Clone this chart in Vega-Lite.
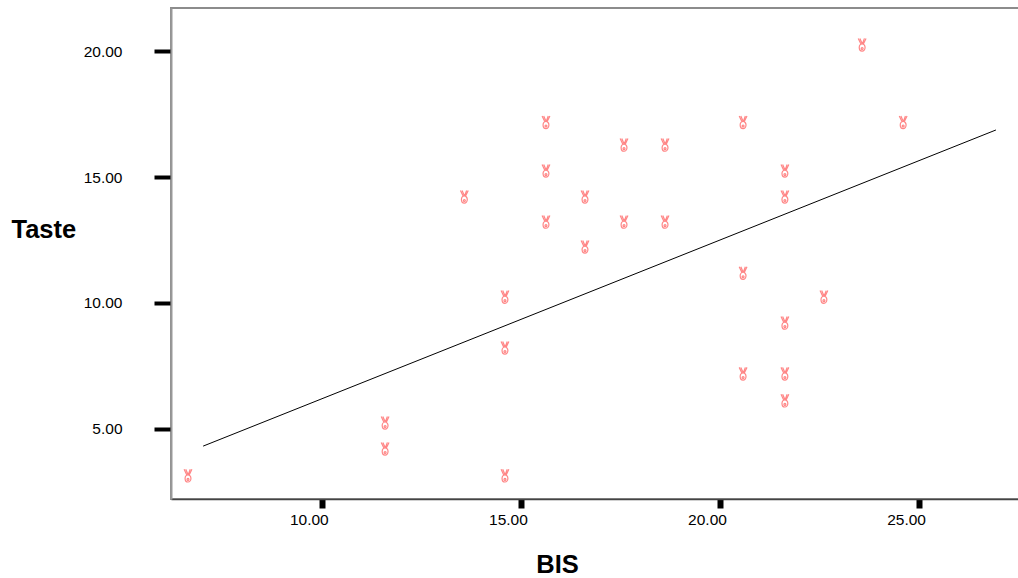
{
  "$schema": "https://vega.github.io/schema/vega-lite/v6.json",
  "width": 848,
  "height": 491,
  "autosize": {"type": "none"},
  "padding": {"left": 171, "top": 8, "right": 0, "bottom": 79},
  "background": "white",
  "view": {"stroke": "#8c8c8c", "strokeWidth": 2},
  "config": {
    "font": "Liberation Sans",
    "axis": {"grid": false, "labelColor": "black", "titleColor": "black", "labelFont": "Liberation Sans", "titleFont": "Liberation Sans"}
  },
  "datasets": {
    "points": [
      {"BIS": 6.64, "Taste": 3.13},
      {"BIS": 11.59, "Taste": 5.23},
      {"BIS": 11.59, "Taste": 4.20},
      {"BIS": 13.58, "Taste": 14.21},
      {"BIS": 14.60, "Taste": 10.23},
      {"BIS": 14.60, "Taste": 8.21},
      {"BIS": 14.60, "Taste": 3.13},
      {"BIS": 15.63, "Taste": 17.17},
      {"BIS": 15.63, "Taste": 15.24},
      {"BIS": 15.63, "Taste": 13.21},
      {"BIS": 16.61, "Taste": 14.21},
      {"BIS": 16.61, "Taste": 12.22},
      {"BIS": 17.59, "Taste": 16.27},
      {"BIS": 17.59, "Taste": 13.21},
      {"BIS": 18.62, "Taste": 16.27},
      {"BIS": 18.62, "Taste": 13.21},
      {"BIS": 20.58, "Taste": 17.17},
      {"BIS": 20.58, "Taste": 11.18},
      {"BIS": 20.58, "Taste": 7.18},
      {"BIS": 21.63, "Taste": 15.24},
      {"BIS": 21.63, "Taste": 14.21},
      {"BIS": 21.63, "Taste": 9.20},
      {"BIS": 21.63, "Taste": 7.18},
      {"BIS": 21.63, "Taste": 6.11},
      {"BIS": 22.61, "Taste": 10.23},
      {"BIS": 23.57, "Taste": 20.25},
      {"BIS": 24.60, "Taste": 17.17}
    ],
    "fit": [
      {"BIS": 7.02, "Taste": 4.31},
      {"BIS": 26.93, "Taste": 16.87}
    ]
  },
  "layer": [
    {
      "data": {"name": "fit"},
      "mark": {"type": "line", "color": "black", "strokeWidth": 1, "clip": true},
      "encoding": {
        "x": {
          "field": "BIS", "type": "quantitative",
          "scale": {"domain": [6.213, 27.509], "nice": false, "zero": false},
          "axis": {
            "values": [10, 15, 20, 25], "format": ".2f",
            "domainColor": "#444444", "domainWidth": 1.5,
            "tickColor": "black", "tickSize": 9, "tickWidth": 6,
            "labelFontSize": 15.5, "labelPadding": 4, "labelOffset": -13,
            "title": "BIS", "titleFontSize": 25.5, "titleFontWeight": "bold",
            "titleX": 386, "titleY": 73, "titleBaseline": "alphabetic", "titleAlign": "center"
          }
        },
        "y": {
          "field": "Taste", "type": "quantitative",
          "scale": {"domain": [2.209, 21.716], "nice": false, "zero": false},
          "axis": {
            "values": [5, 10, 15, 20], "format": ".2f",
            "domainColor": "#999999", "domainWidth": 2,
            "tickColor": "black", "tickSize": 17, "tickWidth": 4,
            "labelFontSize": 15.5, "labelPadding": 32,
            "title": "Taste", "titleFontSize": 25.5, "titleFontWeight": "bold",
            "titleAngle": 0, "titleAlign": "left", "titleBaseline": "alphabetic",
            "titleX": -160, "titleY": 229
          }
        }
      }
    },
    {
      "data": {"name": "points"},
      "mark": {
        "type": "point",
        "shape": "M-0.6,-1L-0.15,-0.05M-0.35,-1L0,-0.2M0.6,-1L0.15,-0.05M0.35,-1L0.05,-0.2M-0.45,0.4A0.45,0.55 0 1 0 0.45,0.4A0.45,0.55 0 1 0 -0.45,0.4M-0.15,0.55A0.15,0.15 0 1 0 0.15,0.55A0.15,0.15 0 1 0 -0.15,0.55",
        "size": 169,
        "filled": false,
        "stroke": "#ff7a7a",
        "strokeWidth": 1.2,
        "opacity": 0.9
      },
      "encoding": {
        "x": {"field": "BIS", "type": "quantitative"},
        "y": {"field": "Taste", "type": "quantitative"}
      }
    }
  ]
}
